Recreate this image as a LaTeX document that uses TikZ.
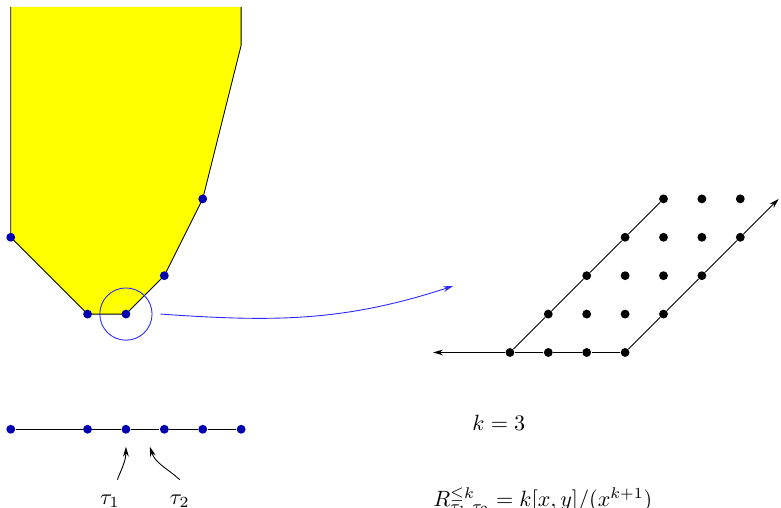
\documentclass[tikz,border=0pt]{standalone}
\usetikzlibrary{positioning, arrows.meta, calc}
\usepackage{amsmath}
\usepackage{xcolor}
\definecolor{ptblue}{HTML}{0000B0}
\definecolor{lensblue}{HTML}{2828FF}
\definecolor{polyyellow}{HTML}{FFFF00}
\tikzset{
  vtx/.style={circle, fill=ptblue, inner sep=0pt, minimum size=4pt},
  lat/.style={circle, fill=black, inner sep=0pt, minimum size=4pt},
  tip/.style={-{Stealth[length=4.5pt, width=2.6pt]}},
}

\begin{document}
\begin{tikzpicture}[x=0.61cm, y=0.61cm]
        \useasboundingbox (-3.28,-5.05) rectangle (17.06,8.18);
        \coordinate (c1) at (-3,2);
        \coordinate (c2) at (-1,0);
        \coordinate (c3) at (0,0);
        \coordinate (c4) at (1,1);
        \coordinate (c5) at (2,3);
        \fill[polyyellow] (-3,8) -- (c1) -- (c2) -- (c3) -- (c4) -- (c5) -- (3,7) -- (3,8) -- cycle;
        \draw (-3,8) -- (c1) -- (c2) -- (c3) -- (c4) -- (c5) -- (3,7) -- (3,8);
        \foreach \i in {1,...,5}
          \node[vtx] (p\i) at (c\i) {};
        \node[draw=lensblue, circle, inner sep=0pt, minimum size=0.83cm] (lens) at (c3) {};
        \coordinate (lensto) at (8.52,0.73);
        \draw[tip, lensblue] ([xshift=0.13cm]lens.east) to[out=-4, in=198] (lensto);

        \foreach \x in {-3,-1,0,1,2,3}
          \node[vtx] (b\x) at (\x,-3) {};
        \draw (b-3) -- (b-1) -- (b0) -- (b1) -- (b2) -- (b3);
        \node[anchor=base] (t1) at (-0.42,-4.96) {$\tau_1$};
        \node[anchor=base] (t2) at (1.4,-4.96) {$\tau_2$};
        \draw[tip] ([shift={(0.12cm,0.12cm)}]t1.north) to[out=68, in=-90] ([yshift=-0.2cm]b0.south);
        \draw[tip] ([yshift=0.12cm]t2.north) to[out=138, in=-72] ([shift={(0.38cm,-0.2cm)}]b0.south);

        \foreach \b in {0,...,3}
          \foreach \a in {0,...,3}
            \node[lat] (q\a\b) at ({10+\a+\b},{\b-1}) {};
        \foreach \a in {0,1,2}
          \node[lat] (q\a4) at ({14+\a},3) {};
        \coordinate (xend) at (8,-1);
        \coordinate (yend) at (17,3);
        \draw (q00) -- (q01) -- (q02) -- (q03) -- (q04);
        \draw[tip] (q30) -- (q31) -- (q32) -- (q33) -- (yend);
        \draw[tip] (q30) -- (q20) -- (q10) -- (q00) -- (xend);

        \node (kval) at (9.71,-2.84) {$k=3$};
        \node[anchor=base west] (ring) at (7.8,-5.0) {$R^{\leq k}_{\tau_1,\tau_2}=k[x,y]/(x^{k+1})$};
\end{tikzpicture}
\end{document}
